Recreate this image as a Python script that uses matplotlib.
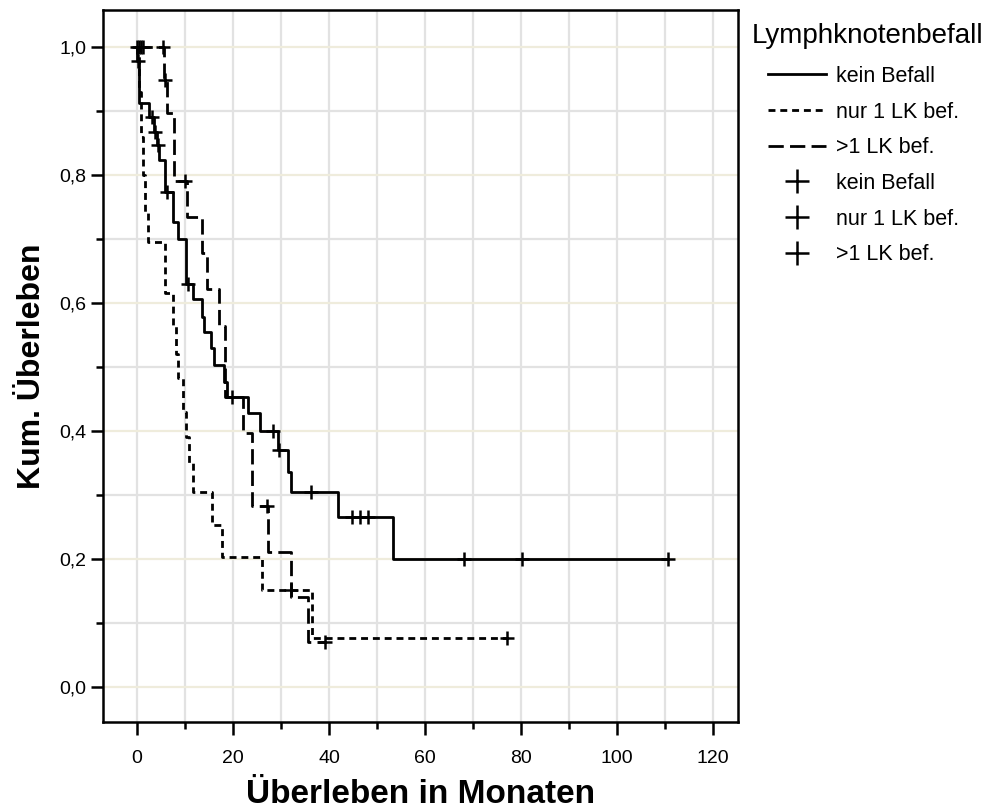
import numpy as np
import matplotlib
matplotlib.use('Agg')
import matplotlib.pyplot as plt
from matplotlib.lines import Line2D
from matplotlib.ticker import MultipleLocator, FuncFormatter

plt.rcParams['font.family'] = ['Liberation Sans', 'DejaVu Sans']
plt.rcParams['lines.scale_dashes'] = False

# Kaplan-Meier steps: event times (months) and survival after each event
kein_times = [0.0, 0.3, 2.5, 3.5, 4.2, 4.5, 5.8, 7.5, 8.5, 10.2, 11.7, 13.5, 14.0,
              15.4, 16.0, 18.0, 18.8, 23.2, 25.5, 29.4, 31.5, 32.1, 41.9, 53.3]
kein_surv = [0.978, 0.913, 0.89, 0.867, 0.847, 0.823, 0.773, 0.727, 0.70, 0.63, 0.607,
             0.578, 0.555, 0.53, 0.503, 0.477, 0.453, 0.428, 0.40, 0.37, 0.336, 0.305,
             0.266, 0.20]
kein_end = 110.6
kein_censored = [0.1, 3.1, 3.75, 4.4, 6.2, 10.6, 28.3, 29.6, 36.2, 44.8, 46.5, 48.1,
                 68.1, 80.2, 110.6]

nur1_times = [0.4, 0.8, 1.2, 1.7, 2.3, 5.8, 7.5, 8.1, 8.6, 9.6, 10.2, 10.8, 11.7,
              15.6, 17.7, 26.0, 36.5]
nur1_surv = [0.93, 0.86, 0.80, 0.74, 0.695, 0.615, 0.565, 0.52, 0.483, 0.43, 0.39,
             0.35, 0.305, 0.253, 0.203, 0.152, 0.077]
nur1_end = 77.0
nur1_censored = [32.0, 77.0]

mehr_times = [5.5, 6.2, 7.7, 10.4, 13.5, 14.6, 17.1, 18.3, 22.0, 24.0, 27.2, 32.0, 35.5]
mehr_surv = [0.948, 0.897, 0.79, 0.734, 0.678, 0.622, 0.564, 0.453, 0.397, 0.283,
             0.211, 0.141, 0.07]
mehr_end = 39.2
mehr_censored = [0.0, 0.4, 0.8, 1.2, 5.3, 5.8, 10.0, 19.8, 27.0, 39.2]

groups = ['kein Befall', 'nur 1 LK bef.', '>1 LK bef.']
styles = ['-', (0, (5, 3.5)), (0, (11, 4.5))]


def km_step(times, surv, end):
    t = np.concatenate([[0.0], times, [end]])
    s = np.concatenate([[1.0], surv, [surv[-1]]])
    return t, s


def surv_at(times, surv, t):
    idx = np.searchsorted(times, t, side='right') - 1
    s = np.asarray([1.0] + list(surv))
    return s[idx + 1]


fig = plt.figure(figsize=(9.88, 8.11), dpi=100)
ax = fig.add_axes([0.1043, 0.1097, 0.6427, 0.878])

data = [(kein_times, kein_surv, kein_end, kein_censored),
        (nur1_times, nur1_surv, nur1_end, nur1_censored),
        (mehr_times, mehr_surv, mehr_end, mehr_censored)]

for (times, surv, end, cens), ls in zip(data, styles):
    t, s = km_step(times, surv, end)
    ax.step(t, s, where='post', color='black', linewidth=2.0, linestyle=ls, zorder=3)
    cs = surv_at(np.asarray(times), surv, np.asarray(cens))
    ax.plot(cens, cs, linestyle='none', marker='+', markersize=10, markeredgewidth=1.8,
            color='black', zorder=4)

ax.set_xlim(-7.1, 125.2)
ax.set_ylim(-0.055, 1.058)

ax.xaxis.set_major_locator(MultipleLocator(20))
ax.xaxis.set_minor_locator(MultipleLocator(10))
ax.yaxis.set_major_locator(MultipleLocator(0.2))
ax.yaxis.set_minor_locator(MultipleLocator(0.1))
ax.yaxis.set_major_formatter(FuncFormatter(lambda v, p: ('%.1f' % v).replace('.', ',')))

# grid: grey verticals, beige major horizontals, grey minor horizontals
ax.set_axisbelow(True)
ax.grid(True, axis='x', which='both', color='#e2e2e2', linewidth=1.6)
ax.grid(True, axis='y', which='major', color='#efecdc', linewidth=1.6)
ax.grid(True, axis='y', which='minor', color='#e2e2e2', linewidth=1.6)

for sp in ax.spines.values():
    sp.set_linewidth(1.8)
ax.tick_params(which='major', length=9, width=1.8, labelsize=14)
ax.tick_params(which='minor', length=5, width=1.8)
ax.tick_params(axis='x', which='major', pad=11)
ax.tick_params(axis='y', which='major', pad=3)

ax.set_xlabel('Überleben in Monaten', fontsize=24, fontweight='bold', labelpad=9)
ax.set_ylabel('Kum. Überleben', fontsize=23, fontweight='bold', labelpad=9)

# legend outside the plot area on the right
handles = [Line2D([], [], color='black', linewidth=2.0, linestyle=ls) for ls in styles]
handles += [Line2D([], [], color='black', linestyle='none', marker='+', markersize=17,
                   markeredgewidth=1.8) for _ in groups]
labels = groups + groups
fig.text(752 / 988, 1 - 36 / 811, 'Lymphknotenbefall', fontsize=20, va='center', ha='left')
fig.legend(handles, labels, loc='upper left', bbox_to_anchor=(768 / 988, 1 - 66 / 811),
           frameon=False, fontsize=15.5, handlelength=2.7, handletextpad=0.45,
           labelspacing=0.68, borderpad=0, borderaxespad=0)

fig.savefig('out.png', dpi=100)
